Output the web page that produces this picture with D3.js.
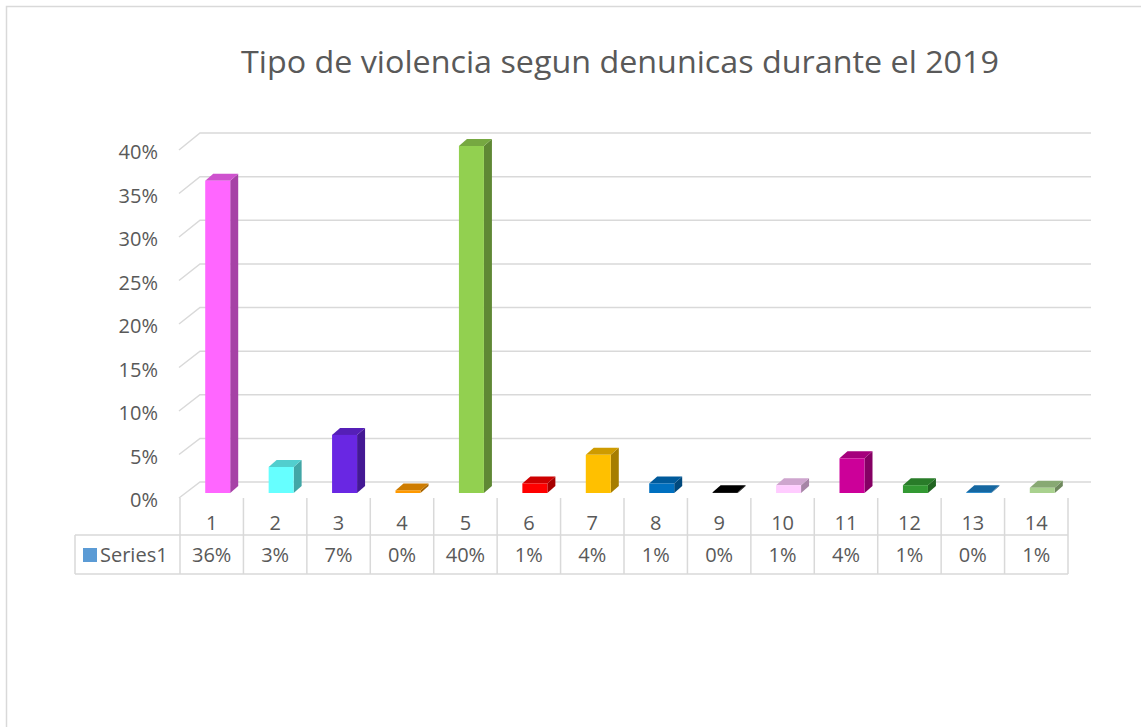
<!DOCTYPE html>
<html><head><meta charset="utf-8">
<script src="https://cdn.jsdelivr.net/npm/d3@7"></script>
<style>body{margin:0;background:#fff}svg{display:block}text{font-family:"Open Sans","Liberation Sans",sans-serif;fill:#595959}</style>
</head><body><svg id="c" width="1141" height="727"></svg>
<script>
const title = "Tipo de violencia segun denunicas durante el 2019";
const categories = ["1","2","3","4","5","6","7","8","9","10","11","12","13","14"];
const values = [0.36,0.03,0.067,0.003,0.40,0.011,0.044,0.011,0.001,0.009,0.040,0.009,0.001,0.006];
const colors = ["#ff66ff","#66ffff","#6927e3","#ff9900","#92d050","#ff0000","#ffc000","#0070c0","#000000","#ffccff","#cc0099","#339933","#1a80c8","#a9d18e"];
const yTicks = [0,0.05,0.10,0.15,0.20,0.25,0.30,0.35,0.40];
const seriesName = "Series1";

const svg = d3.select("#c");
const grid = "#d9d9d9";
const fmt = d3.format(".0%");

svg.append("rect").attr("x",6.5).attr("y",6.5).attr("width",1160).attr("height",740)
  .attr("fill","#fff").attr("stroke",grid).attr("stroke-width",1.5);

svg.append("text").attr("x",620).attr("y",73).attr("text-anchor","middle")
  .attr("font-size",31).attr("textLength",758).attr("lengthAdjust","spacingAndGlyphs").text(title);

const x = d3.scaleBand(categories,[180,1068]);
const yFront = d3.scaleLinear([0,0.4],[498,150]);
const yBack = d3.scaleLinear([0,0.4],[482,133]);
const yBar = d3.scaleLinear([0,0.4],[493,146]);
const backL = 200, backR = 1091, frontL = 179;

// gridlines
const g = svg.append("g").attr("stroke",grid).attr("stroke-width",1.5).attr("fill","none");
yTicks.forEach(t=>{
  g.append("path").attr("d",`M${frontL},${yFront(t)}L${backL},${yBack(t)}L${backR},${yBack(t)}`);
});
svg.append("g").selectAll("text").data(yTicks).join("text")
  .attr("x",158).attr("y",d=>yFront(d)+9).attr("text-anchor","end").attr("font-size",20)
  .text(d=>fmt(d));

// bars
const bw = 25, dx = 8, dy = -7;
const bars = svg.append("g");
categories.forEach((c,i)=>{
  const x0 = x(c) + x.bandwidth()/2 + 6 - bw/2, x1 = x0 + bw;
  const yt = yBar(values[i]), yb = yBar(0);
  const col = d3.rgb(colors[i]);
  const b = bars.append("g");
  b.append("path").attr("d",`M${x1},${yb}L${x1+dx},${yb+dy}L${x1+dx},${yt+dy}L${x1},${yt}Z`)
    .attr("fill",col.darker(1.2));
  b.append("path").attr("d",`M${x0},${yt}L${x0+dx},${yt+dy}L${x1+dx},${yt+dy}L${x1},${yt}Z`)
    .attr("fill",col.darker(0.6));
  b.append("rect").attr("x",x0).attr("y",yt).attr("width",bw).attr("height",Math.max(0,yb-yt))
    .attr("fill",col);
});

// data table
const tg = svg.append("g").attr("stroke",grid).attr("stroke-width",1.5);
const edges = categories.map(c=>x(c)).concat([x.range()[1]]);
edges.forEach(e=>tg.append("line").attr("x1",e).attr("x2",e).attr("y1",498).attr("y2",574));
tg.append("line").attr("x1",75).attr("x2",75).attr("y1",535).attr("y2",574);
[535,574].forEach(yy=>tg.append("line").attr("x1",75).attr("x2",x.range()[1]).attr("y1",yy).attr("y2",yy));

svg.append("g").selectAll("text").data(categories).join("text")
  .attr("x",d=>x(d)+x.bandwidth()/2).attr("y",530).attr("text-anchor","middle").attr("font-size",20)
  .text(d=>d);
svg.append("g").selectAll("text").data(values).join("text")
  .attr("x",(d,i)=>x(categories[i])+x.bandwidth()/2).attr("y",562).attr("text-anchor","middle").attr("font-size",20)
  .text(d=>fmt(d));
svg.append("rect").attr("x",83).attr("y",548).attr("width",14).attr("height",14).attr("fill","#5b9bd5");
svg.append("text").attr("x",100).attr("y",562).attr("font-size",20).text(seriesName);
</script></body></html>
